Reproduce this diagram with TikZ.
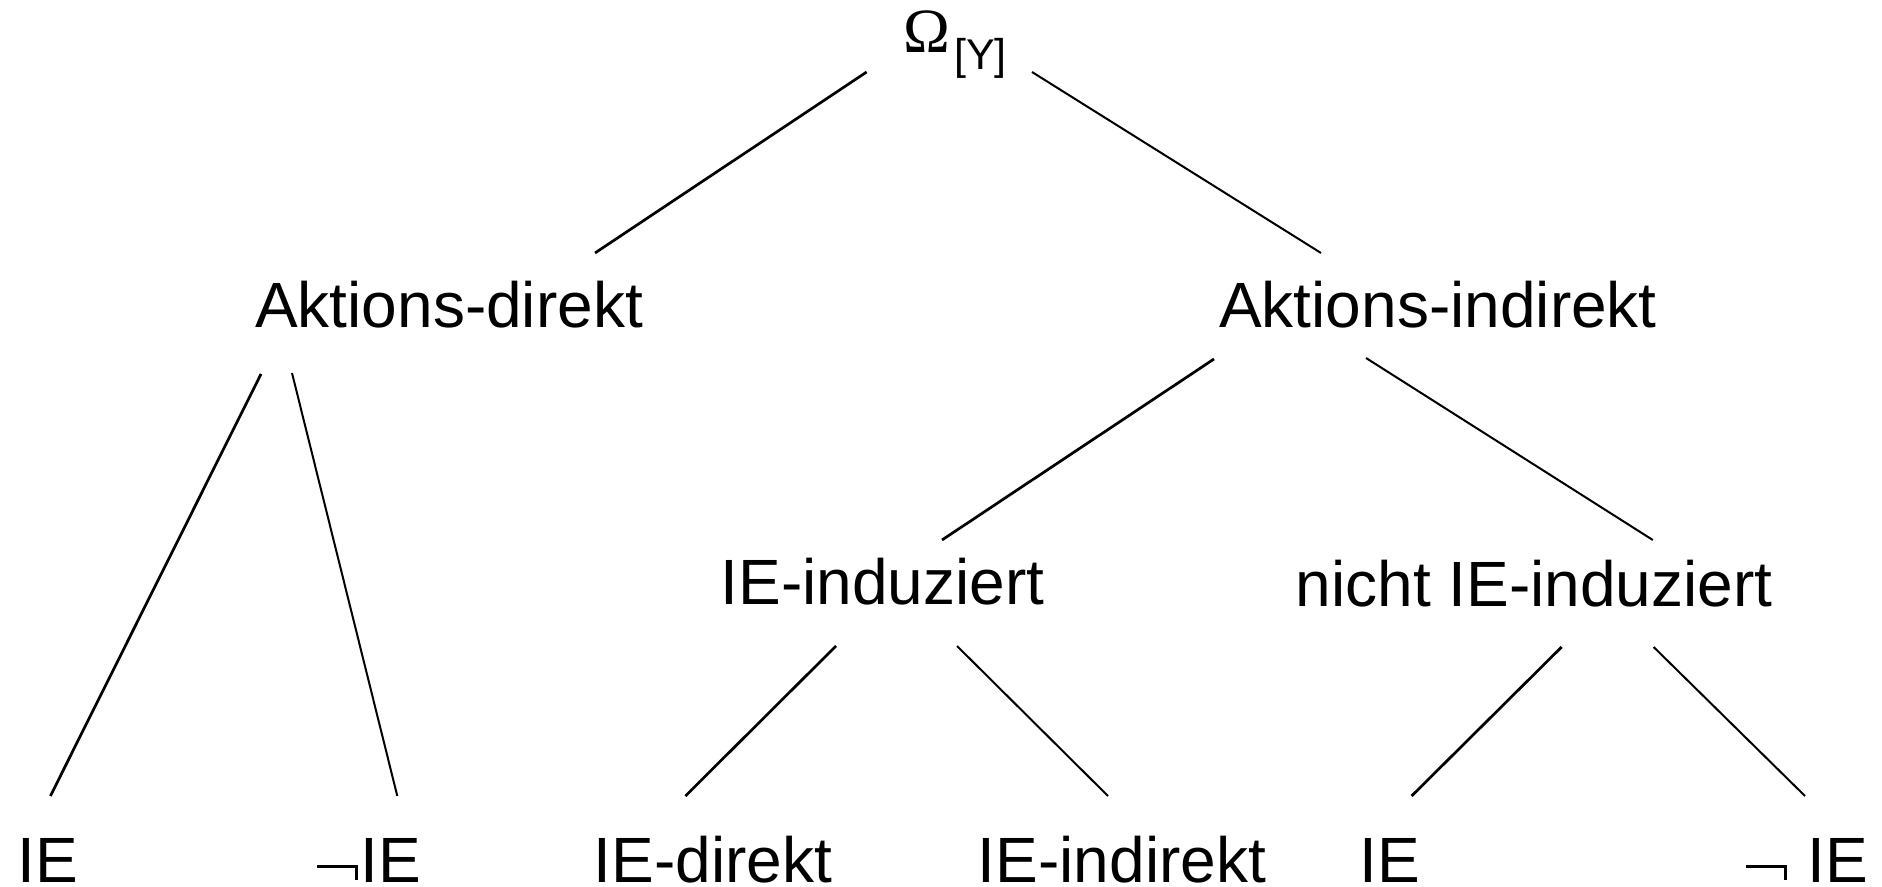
\documentclass[tikz,border=0pt]{standalone}
\usepackage{fontspec}
\setmainfont{Liberation Sans}
\newfontfamily\omfont{Liberation Serif}
\usetikzlibrary{calc}
\tikzset{
  lbl/.style={inner sep=0pt, anchor=base, font=\fontsize{32}{38}\selectfont},
  brL/.style={line width=1.35pt, line cap=butt},
  brR/.style={line width=1pt, line cap=butt}
}
% negation sign: bar with a short hook at its right end
\newcommand{\negsym}{\rule[7pt]{20.5pt}{1.5pt}\kern-1.5pt\rule[1pt]{1.5pt}{7.5pt}}
\begin{document}
\begin{tikzpicture}[x=0.5pt,y=-0.5pt]
\useasboundingbox (0,0) rectangle (1882,887);
% nodes
\node[lbl, anchor=base west] (om) at (903,53) {{\omfont\fontsize{31.5}{33}\selectfont Ω}\kern2pt\raisebox{-8.5pt}{\fontsize{21.5}{23}\selectfont[Y]}};
\node[lbl] (ad) at (449,328) {Aktions-direkt};
\node[lbl] (ai) at (1438,328) {Aktions-indirekt};
\node[lbl] (ii) at (882.5,604) {IE-induziert};
\node[lbl] (ni) at (1534,606) {nicht IE-induziert};
\node[lbl] (b1) at (48,882) {IE};
\node[lbl, anchor=base west] (b2) at (317,882) {\negsym\kern1pt IE};
\node[lbl] (b3) at (713,882) {IE-direkt};
\node[lbl] (b4) at (1122,882) {IE-indirekt};
\node[lbl] (b5) at (1390,882) {IE};
\node[lbl, anchor=base west] (b6) at (1746,882) {\negsym\kern10pt IE};
% connectors
\draw[brL] ($(om.base west)+(-36.4,19)$) -- ($(ad.base)+(146,-75)$);
\draw[brR] ($(om.base west)+(129,19)$) -- ($(ai.base)+(-117,-75)$);
\draw[brL] ($(ad.base)+(-188,46)$) -- ($(b1.base)+(2.4,-86)$);
\draw[brR] ($(ad.base)+(-157,45)$) -- ($(b2.base west)+(80.3,-86)$);
\draw[brL] ($(ai.base)+(-224,31)$) -- ($(ii.base)+(59.5,-64)$);
\draw[brR] ($(ai.base)+(-72,30)$) -- ($(ni.base)+(118.8,-66)$);
\draw[brL] ($(ii.base)+(-46.5,42)$) -- ($(b3.base)+(-27.6,-86)$);
\draw[brR] ($(ii.base)+(74.5,42)$) -- ($(b4.base)+(-14,-86)$);
\draw[brL] ($(ni.base)+(27.6,41)$) -- ($(b5.base)+(21.6,-86)$);
\draw[brR] ($(ni.base)+(119.6,41)$) -- ($(b6.base west)+(59,-86)$);
\end{tikzpicture}
\end{document}
